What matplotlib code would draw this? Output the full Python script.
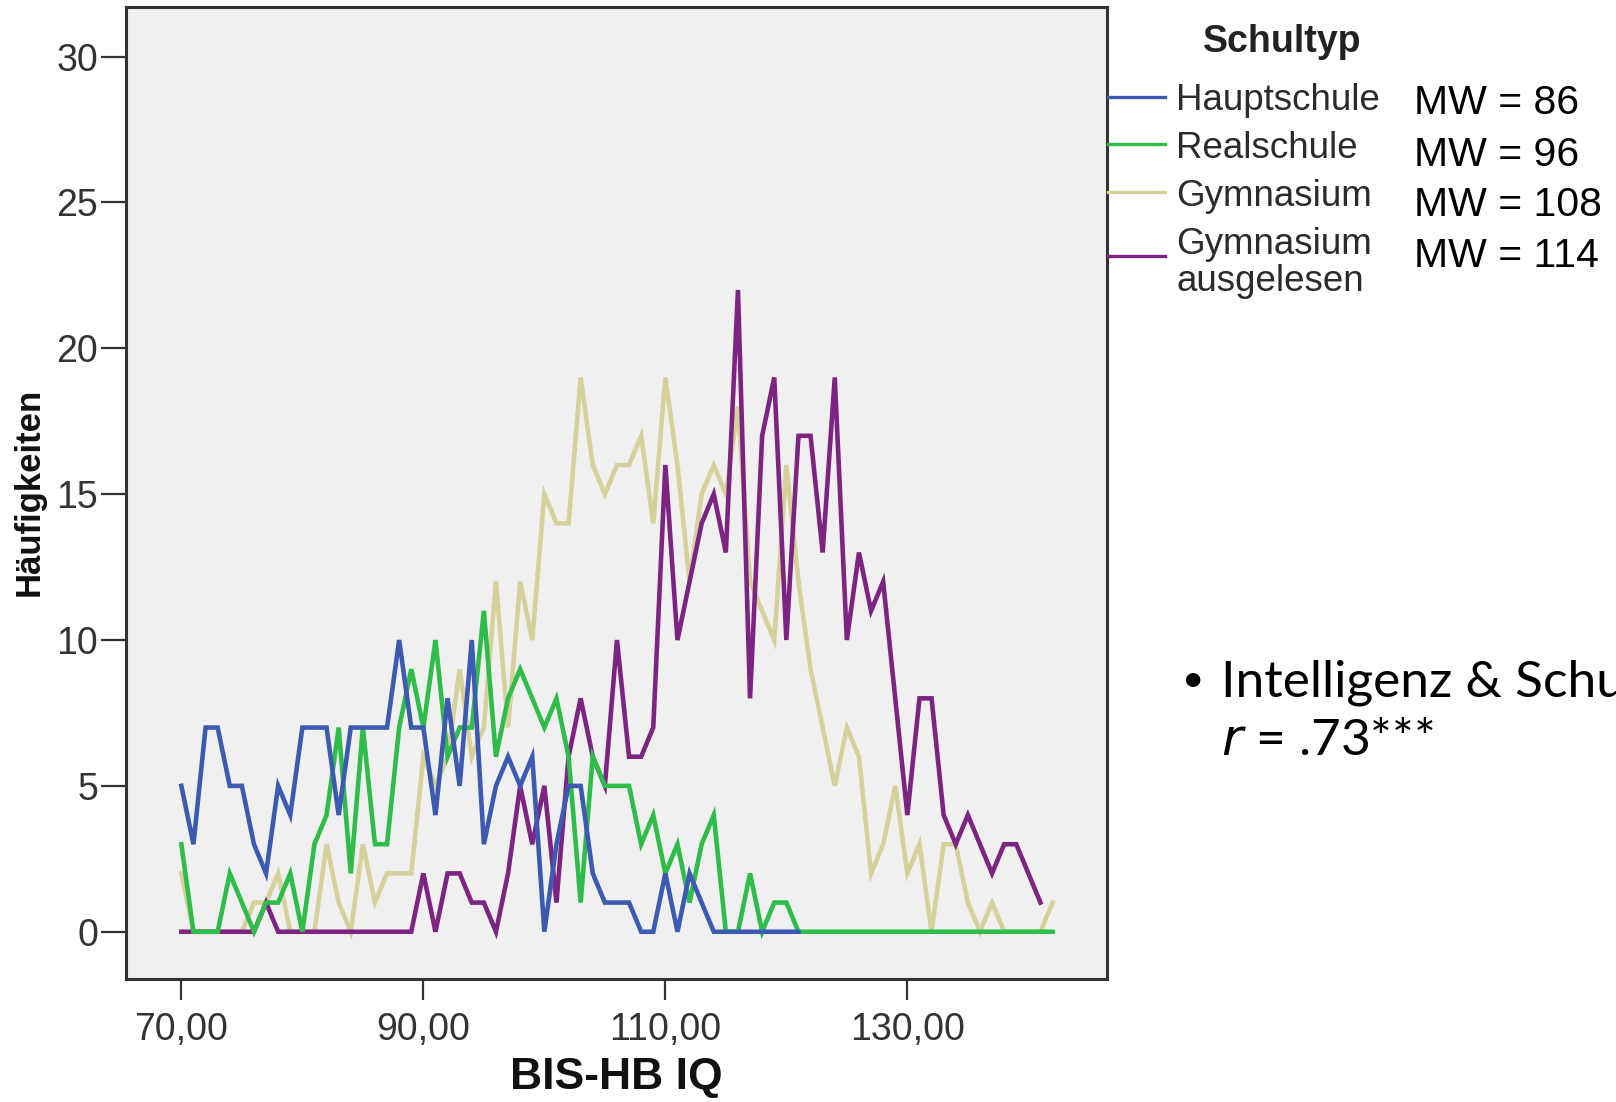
import numpy as np
import matplotlib
matplotlib.use("Agg")
import matplotlib.pyplot as plt
from matplotlib.lines import Line2D

plt.rcParams['font.family'] = ['Liberation Sans', 'DejaVu Sans']

# IQ-Werte (BIS-HB) und Häufigkeiten je Schultyp
iq = np.arange(70, 143)

hauptschule = [5, 3, 7, 7, 5, 5, 3, 2, 5, 4,
               7, 7, 7, 4, 7, 7, 7, 7, 10, 7,
               7, 4, 8, 5, 10, 3, 5, 6, 5, 6,
               0, 3, 5, 5, 2, 1, 1, 1, 0, 0,
               2, 0, 2, 1, 0, 0, 0, 0, 0, 0,
               0, 0] + [np.nan] * 21

realschule = [3, 0, 0, 0, 2, 1, 0, 1, 1, 2,
              0, 3, 4, 7, 2, 7, 3, 3, 7, 9,
              7, 10, 6, 7, 7, 11, 6, 8, 9, 8,
              7, 8, 6, 1, 6, 5, 5, 5, 3, 4,
              2, 3, 1, 3, 4, 0, 0, 2, 0, 1,
              1] + [0] * 22

gymnasium = [2, 0, 0, 0, 0, 0, 1, 1, 2, 0,
             0, 0, 3, 1, 0, 3, 1, 2, 2, 2,
             6, 5, 6, 9, 6, 7, 12, 7, 12, 10,
             15, 14, 14, 19, 16, 15, 16, 16, 17, 14,
             19, 16, 12, 15, 16, 15, 18, 12, 11, 10,
             16, 12, 9, 7, 5, 7, 6, 2, 3, 5,
             2, 3, 0, 3, 3, 1, 0, 1, 0, 0,
             0, 0, 1]

gym_ausgelesen = [0, 0, 0, 0, 0, 0, 0, 1, 0, 0,
                  0, 0, 0, 0, 0, 0, 0, 0, 0, 0,
                  2, 0, 2, 2, 1, 1, 0, 2, 5, 3,
                  5, 1, 6, 8, 6, 5, 10, 6, 6, 7,
                  16, 10, 12, 14, 15, 13, 22, 8, 17, 19,
                  10, 17, 17, 13, 19, 10, 13, 11, 12, 8,
                  4, 8, 8, 4, 3, 4, 3, 2, 3, 3,
                  2, 1, np.nan]

labels = ["Hauptschule", "Realschule", "Gymnasium", "Gymnasium\nausgelesen"]
mittelwerte = [86, 96, 108, 114]
farben = ['#3d5ab3', '#2fbd4a', '#d6d19b', '#7d2482']
serien = [hauptschule, realschule, gymnasium, gym_ausgelesen]

W, H = 1616, 1102
fig = plt.figure(figsize=(W / 100, H / 100), dpi=100)
fig.patch.set_facecolor('white')

ax = fig.add_axes([125.7 / W, 1 - 979 / H, (1107 - 125.7) / W, (979 - 7) / H])
ax.set_facecolor('#f0f0f0')

# Gymnasium zuerst, damit die anderen Linien darüber liegen
for idx in [2, 3, 1, 0]:
    ax.plot(iq, serien[idx], color=farben[idx], lw=3.3, solid_joinstyle='miter')

ax.set_xlim(65.4, 146.5)
ax.set_ylim(-1.62, 31.7)
ax.set_xticks([70, 90, 110, 130])
ax.set_xticklabels(["70,00", "90,00", "110,00", "130,00"])
ax.set_yticks([0, 5, 10, 15, 20, 25, 30])
ax.tick_params(axis='x', length=15, width=1.6, pad=9, labelsize=27,
               colors='#333333')
ax.tick_params(axis='y', length=18, width=1.6, pad=2, labelsize=27,
               colors='#333333')
for s in ax.spines.values():
    s.set_color('#333333')
    s.set_linewidth(2.2)

# Achsentitel
fig.text(616 / W, 1 - 1078 / H, "BIS-HB IQ", ha='center', va='center',
         fontsize=32, fontweight='bold', color='#111111')
fig.text(29 / W, 1 - 492 / H, "Häufigkeiten", ha='center', va='center',
         rotation=90, fontsize=25, fontweight='bold', color='#111111')

# Legende rechts neben dem Diagramm
fig.text(1282 / W, 1 - 42 / H, "Schultyp", ha='center', va='center',
         fontsize=27, fontweight='bold', color='#222222')
linie_y = [97, 144, 192, 256]
text_y = [101, 149, 196, 263]
mw_y = [103, 155, 205, 256]
for i in range(4):
    fig.add_artist(Line2D([1108 / W, 1165 / W], [1 - linie_y[i] / H] * 2,
                          color=farben[i], lw=2.4, transform=fig.transFigure))
    fig.text(1176 / W, 1 - text_y[i] / H, labels[i], ha='left', va='center',
             fontsize=26.5, color='#2b2b2b', linespacing=1.1)
    fig.text(1414 / W, 1 - mw_y[i] / H, "MW = %d" % mittelwerte[i],
             ha='left', va='center', fontsize=29.5, color='black')

# Korrelation
fig.text(1182 / W, 1 - 680 / H, "•", ha='left', va='center', fontsize=28,
         family=['Lato', 'DejaVu Sans'], color='black')
fig.text(1221 / W, 1 - 683 / H, "Intelligenz & Schulform", ha='left',
         va='center', fontsize=37, family=['Lato', 'DejaVu Sans'],
         color='black')
fig.text(1221 / W, 1 - 741 / H, "$\\it{r}$ = .73***", ha='left', va='center',
         fontsize=37, family=['Lato', 'DejaVu Sans'], color='black')

fig.savefig("out.png", dpi=100)
